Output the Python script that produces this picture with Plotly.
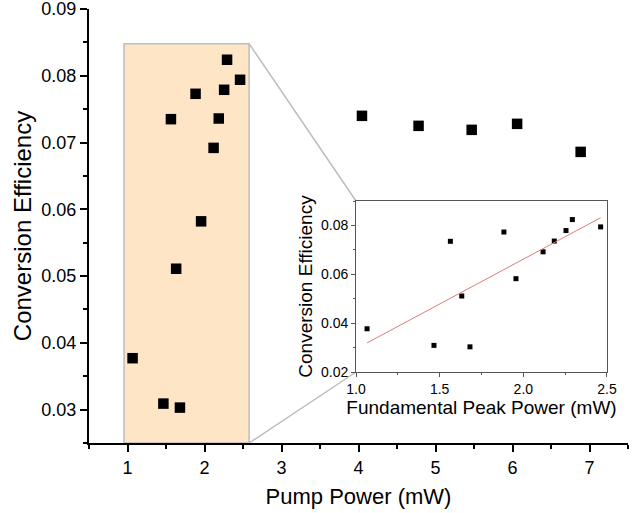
import numpy as np
import plotly.graph_objects as go

# ---- data ----
fund_power = [1.066, 1.466, 1.564, 1.632, 1.681, 1.884, 1.956, 2.118, 2.185, 2.255, 2.293, 2.462]
fund_eff = [0.0377, 0.0309, 0.0735, 0.0511, 0.0303, 0.0773, 0.0582, 0.0692, 0.0736, 0.0779, 0.0824, 0.0794]
high_power = [4.045, 4.78, 5.47, 6.06, 6.885]
high_eff = [0.0740, 0.0725, 0.0719, 0.0728, 0.0686]

pump_power = fund_power + high_power
pump_eff = fund_eff + high_eff

main_xticks = [1, 2, 3, 4, 5, 6, 7]
main_yticks = [0.03, 0.04, 0.05, 0.06, 0.07, 0.08, 0.09]
inset_xticks = [1.0, 1.5, 2.0, 2.5]
inset_yticks = [0.02, 0.04, 0.06, 0.08]

# linear fit for inset
slope, intercept = np.polyfit(fund_power, fund_eff, 1)
fit_x = [min(fund_power), max(fund_power)]
fit_y = [slope * v + intercept for v in fit_x]

FONT = "Arial, Liberation Sans, sans-serif"
XR = [0.5, 7.5]
YR = [0.025, 0.09]
inset_dom_x = [0.4954, 0.961]
inset_dom_y = [0.1636, 0.5576]

def paper_to_data_x(p):
    return XR[0] + p * (XR[1] - XR[0])

def paper_to_data_y(p):
    return YR[0] + p * (YR[1] - YR[0])

fig = go.Figure()
fig.add_trace(go.Scatter(x=pump_power, y=pump_eff, mode="markers",
                         marker=dict(symbol="square", size=10.5, color="black"),
                         xaxis="x", yaxis="y", showlegend=False, cliponaxis=False))
fig.add_trace(go.Scatter(x=fund_power, y=fund_eff, mode="markers",
                         marker=dict(symbol="square", size=5, color="black"),
                         xaxis="x2", yaxis="y2", showlegend=False))
fig.add_trace(go.Scatter(x=fit_x, y=fit_y, mode="lines",
                         line=dict(color="#E07B7B", width=1),
                         xaxis="x2", yaxis="y2", showlegend=False))

rx0, rx1, ry1 = 0.955, 2.58, 0.0848
fig.add_shape(type="rect", xref="x", yref="y", x0=rx0, x1=rx1, y0=YR[0], y1=ry1,
              fillcolor="#FDE5C6", line=dict(color="#BDBDBD", width=1.5), layer="below")
ix0 = paper_to_data_x(inset_dom_x[0])
iy0 = paper_to_data_y(inset_dom_y[0])
iy1 = paper_to_data_y(inset_dom_y[1])
fig.add_shape(type="line", xref="x", yref="y", x0=rx1, y0=ry1, x1=ix0, y1=iy1,
              line=dict(color="#BDBDBD", width=1.5), layer="below")
fig.add_shape(type="line", xref="x", yref="y", x0=rx1, y0=YR[0], x1=ix0, y1=iy0,
              line=dict(color="#BDBDBD", width=1.5), layer="below")

fig.update_layout(
    width=638, height=513,
    margin=dict(l=89, r=10, t=9, b=70),
    paper_bgcolor="white", plot_bgcolor="rgba(0,0,0,0)",
    font=dict(family=FONT, color="black"),
    xaxis=dict(range=XR, tickvals=main_xticks, showline=True, linecolor="black", linewidth=2,
               ticks="outside", ticklen=7, tickwidth=2, tickcolor="black", automargin=False,
               tickfont=dict(size=18), showgrid=False, zeroline=False, ticklabeloverflow="allow",
               minor=dict(dtick=0.5, tick0=0, ticks="outside", ticklen=4, tickwidth=2, tickcolor="black"),
               title=dict(text="Pump Power (mW)", font=dict(size=22), standoff=12)),
    yaxis=dict(range=YR, tickvals=main_yticks, tickformat=".2f", showline=True, linecolor="black",
               linewidth=2, ticks="outside", ticklen=7, tickwidth=2, tickcolor="black", automargin=False,
               tickfont=dict(size=18), showgrid=False, zeroline=False, ticklabeloverflow="allow",
               minor=dict(dtick=0.005, tick0=0, ticks="outside", ticklen=4, tickwidth=2, tickcolor="black"),
               title=dict(text="Conversion Efficiency", font=dict(size=24), standoff=3)),
    xaxis2=dict(domain=inset_dom_x, anchor="y2", range=[1.0, 2.5], tickvals=inset_xticks,
                tickformat=".1f", showline=True, mirror=True, linecolor="#555555", linewidth=1,
                ticks="outside", ticklen=4, tickcolor="#555555", tickfont=dict(size=14),
                showgrid=False, zeroline=False, automargin=False,
                minor=dict(dtick=0.25, tick0=0, ticks="outside", ticklen=2, tickcolor="#555555"),
                title=dict(text="Fundamental Peak Power (mW)", font=dict(size=19), standoff=4)),
    yaxis2=dict(domain=inset_dom_y, anchor="x2", range=[0.02, 0.09], tickvals=inset_yticks,
                tickformat=".2f", showline=True, mirror=True, linecolor="#555555", linewidth=1,
                ticks="outside", ticklen=4, tickcolor="#555555", tickfont=dict(size=14),
                showgrid=False, zeroline=False, automargin=False,
                minor=dict(dtick=0.01, tick0=0, ticks="outside", ticklen=2, tickcolor="#555555"),
                title=dict(text="Conversion Efficiency", font=dict(size=19), standoff=3)),
)

fig.add_shape(type="rect", xref="x2 domain", yref="y2 domain", x0=0, x1=1, y0=0, y1=1,
              fillcolor="white", line=dict(width=0), layer="below")

fig.write_html("out.html", config={"displayModeBar": False},
               post_script="document.body.style.margin='0';document.body.style.padding='0';")
